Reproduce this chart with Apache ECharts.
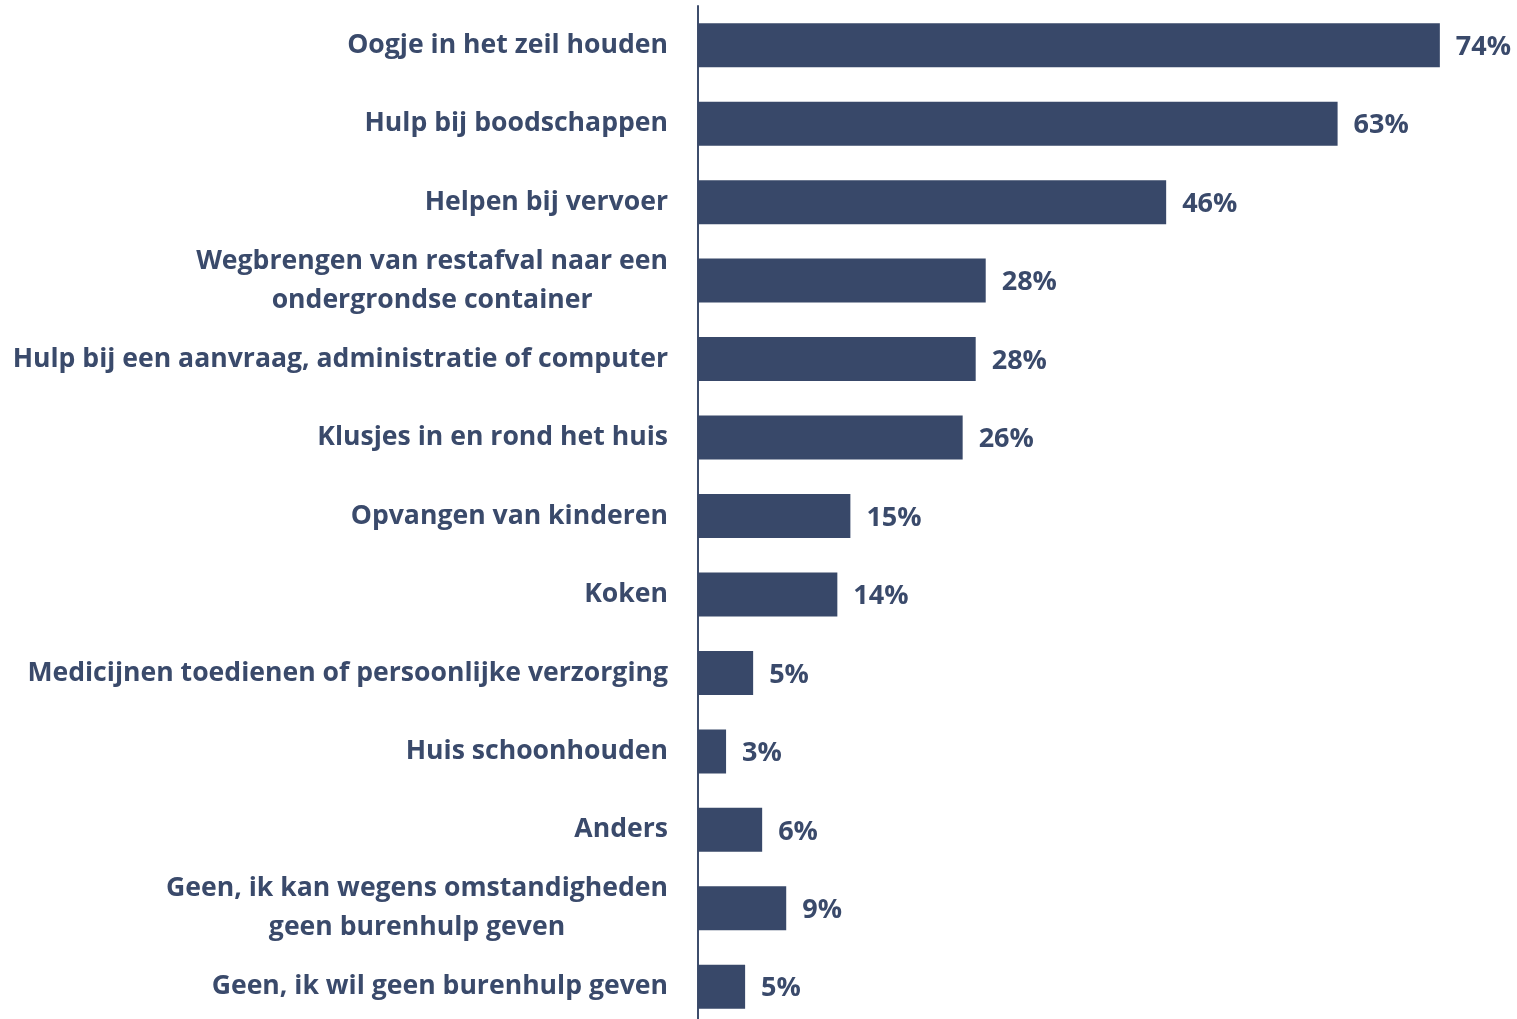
<!DOCTYPE html>
<html>
<head>
<meta charset="utf-8">
<script src="https://cdn.jsdelivr.net/npm/echarts@6/dist/echarts.min.js"></script>
<style>
  html, body { margin: 0; padding: 0; background: #fff; }
  #wrap { width: 1517px; height: 1019px; overflow: hidden; }
  #chart { width: 1517px; height: 1030px; }
</style>
</head>
<body>
<div id="wrap"><div id="chart"></div></div>
<script>
// categories from top to bottom
const categories = [
  "Oogje in het zeil houden",
  "Hulp bij boodschappen",
  "Helpen bij vervoer",
  "Wegbrengen van restafval naar een\nondergrondse container",
  "Hulp bij een aanvraag, administratie of computer",
  "Klusjes in en rond het huis",
  "Opvangen van kinderen",
  "Koken",
  "Medicijnen toedienen of persoonlijke verzorging",
  "Huis schoonhouden",
  "Anders",
  "Geen, ik kan wegens omstandigheden\ngeen burenhulp geven",
  "Geen, ik wil geen burenhulp geven"
];
// bar lengths
const values = [74.0, 63.8, 46.7, 28.7, 27.7, 26.4, 15.2, 13.9, 5.5, 2.8, 6.4, 8.8, 4.7];
// printed percentages
const labels = ["74%", "63%", "46%", "28%", "28%", "26%", "15%", "14%", "5%", "3%", "6%", "9%", "5%"];

const textColor = "#3a4a6b";
const barColor = "#384869";
const fontFamily = "'Open Sans', sans-serif";

const chart = echarts.init(document.getElementById("chart"));
chart.setOption({
  animation: false,
  grid: { left: 698, width: 802, top: 6, height: 1020, containLabel: false },
  xAxis: {
    type: "value",
    min: 0,
    max: 80,
    show: false
  },
  yAxis: {
    type: "category",
    inverse: true,
    data: categories,
    axisTick: { show: false },
    axisLine: { show: true, lineStyle: { color: "#3e4d6c", width: 2 } },
    axisLabel: {
      margin: 30,
      align: "right",
      formatter: function (v) {
        return v.split("\n").map(function (s) { return "{c|" + s + "}"; }).join("\n");
      },
      rich: {
        c: {
          align: "center",
          color: textColor,
          fontFamily: fontFamily,
          fontWeight: "bold",
          fontSize: 26.6,
          lineHeight: 39
        }
      }
    }
  },
  series: [
    {
      type: "bar",
      data: values,
      barWidth: 44,
      itemStyle: { color: barColor },
      label: {
        show: true,
        position: "right",
        distance: 16,
        offset: [0, 2],
        color: textColor,
        fontFamily: fontFamily,
        fontWeight: "bold",
        fontSize: 27,
        formatter: function (p) { return labels[p.dataIndex]; }
      }
    }
  ]
});
</script>
</body>
</html>
